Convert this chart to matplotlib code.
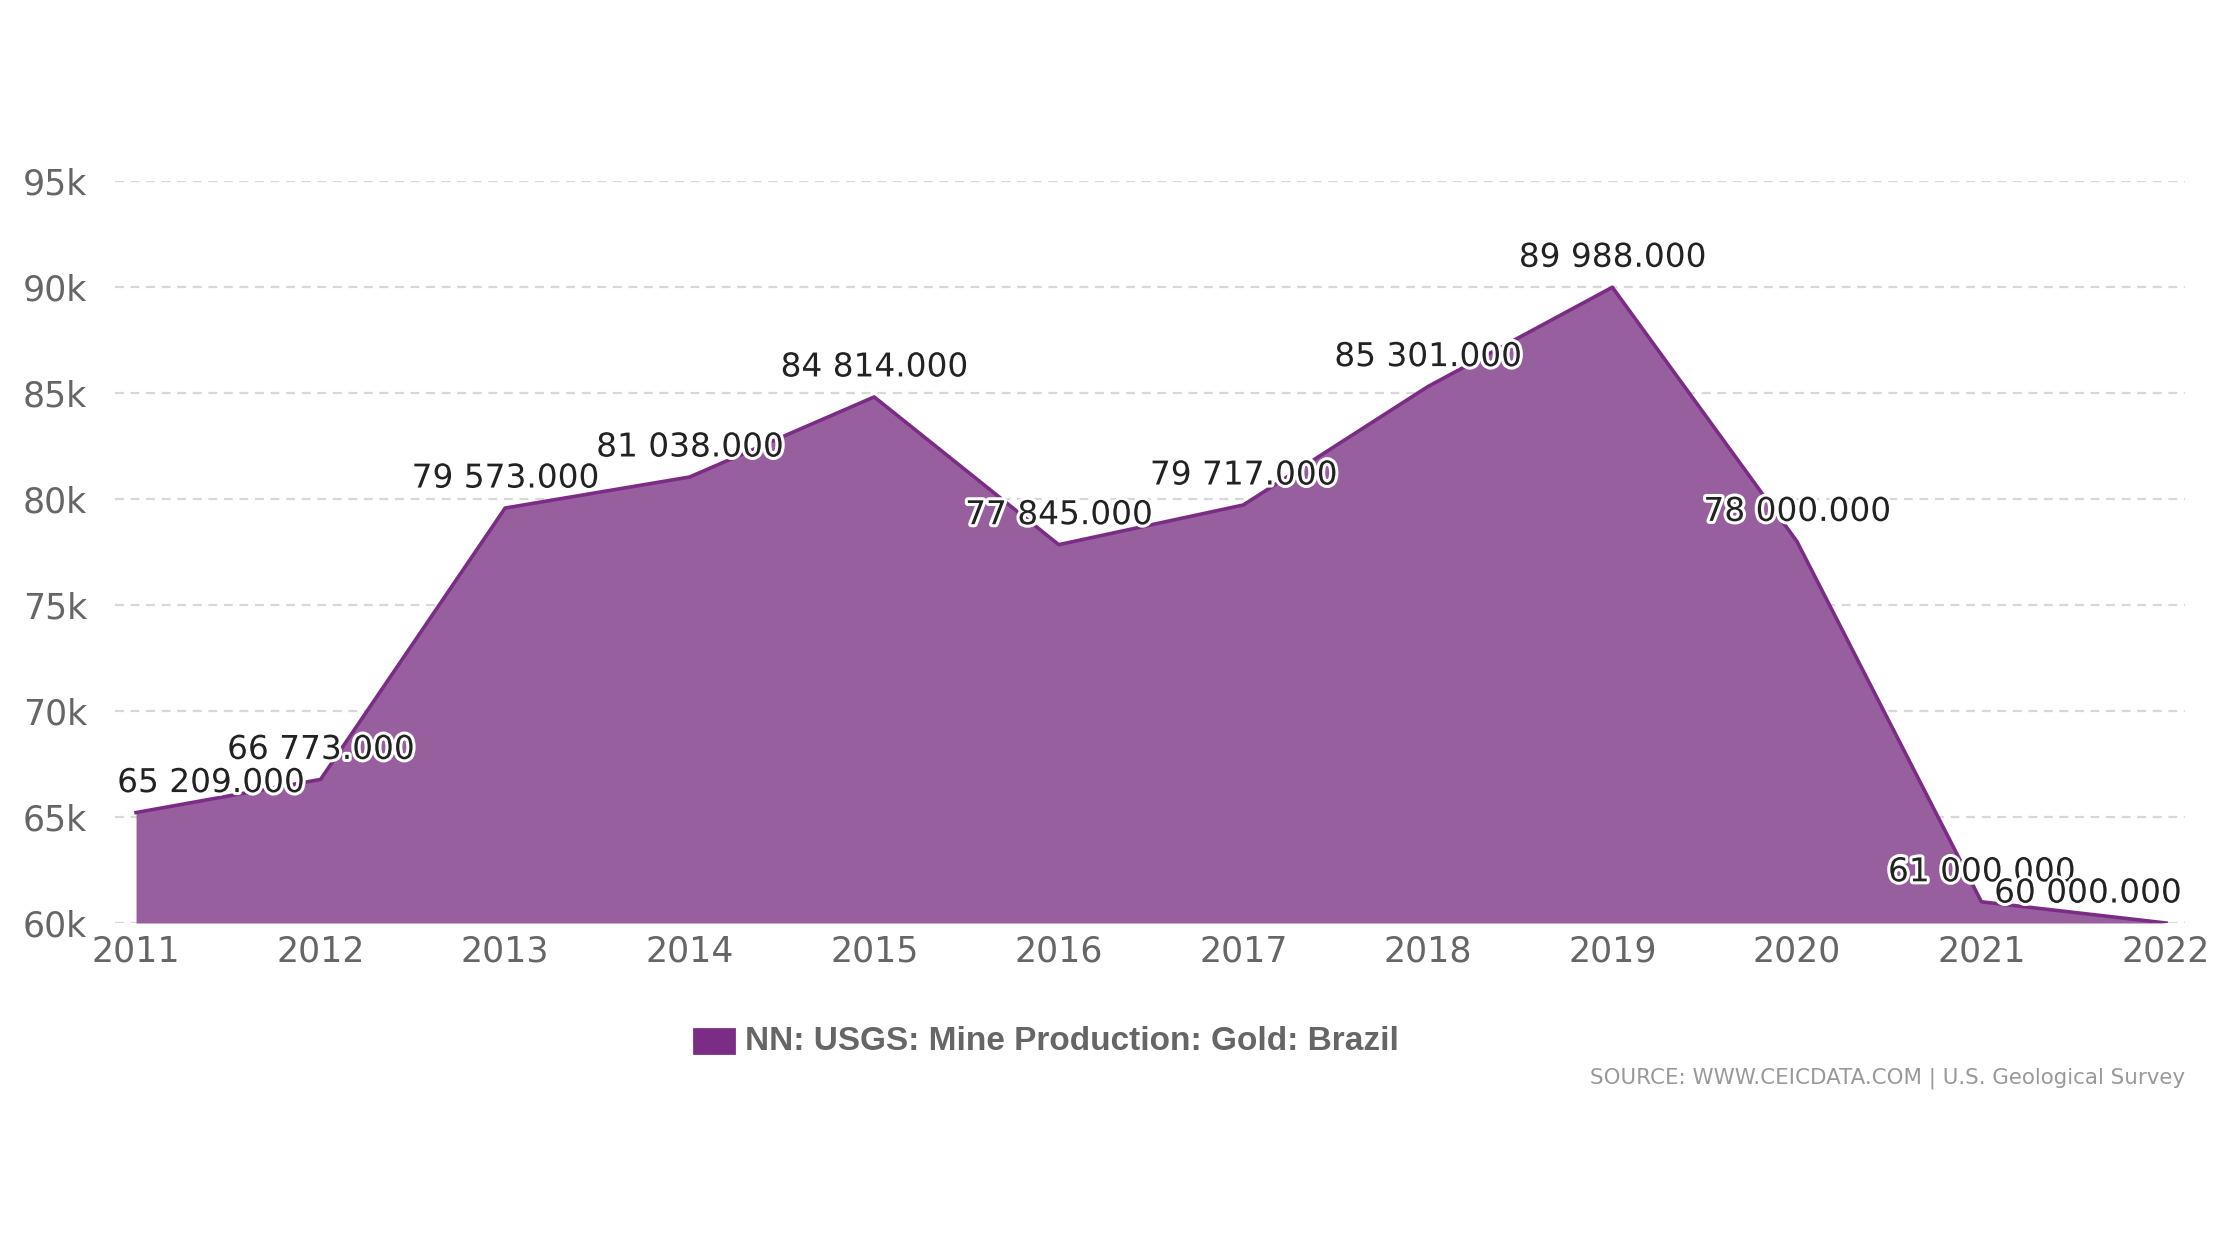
import matplotlib
matplotlib.use("Agg")
import matplotlib.pyplot as plt
import matplotlib.patheffects as pe
from matplotlib.patches import Rectangle

years = [2011, 2012, 2013, 2014, 2015, 2016, 2017, 2018, 2019, 2020, 2021, 2022]
values = [65209, 66773, 79573, 81038, 84814, 77845, 79717, 85301, 89988, 78000, 61000, 60000]
yticks = [60000, 65000, 70000, 75000, 80000, 85000, 90000, 95000]
ytick_labels = ["60k", "65k", "70k", "75k", "80k", "85k", "90k", "95k"]
legend_label = "NN: USGS: Mine Production: Gold: Brazil"
source_text = "SOURCE: WWW.CEICDATA.COM | U.S. Geological Survey"

W, H, DPI = 2240, 1260, 200
fig = plt.figure(figsize=(W / DPI, H / DPI), dpi=DPI)
fig.patch.set_facecolor("white")
ax = fig.add_axes([115 / W, 1 - 923 / H, (2185 - 115) / W, (923 - 181) / H])

line_col = "#7b2d86"
fill_col = "#985f9f"

ax.fill_between(years, values, 60000, color=fill_col, lw=0, zorder=2)
ax.plot(years, values, color=line_col, lw=1.3, zorder=3)

ax.set_xlim(2010.886, 2022.103)
ax.set_ylim(60000, 95000)
ax.set_yticks(yticks)
ax.set_yticklabels(ytick_labels)
ax.set_xticks(years)
ax.set_xticklabels([str(y) for y in years])
ax.tick_params(axis="both", length=0, colors="#666666", labelsize=12.5)
ax.tick_params(axis="y", pad=10)
ax.tick_params(axis="x", pad=4)
for lab in ax.get_xticklabels() + ax.get_yticklabels():
    lab.set_color("#666666")
for s in ax.spines.values():
    s.set_visible(False)
ax.grid(axis="y", color="#d8d8d8", linestyle=(0, (4, 3)), lw=0.8, zorder=1)
ax.grid(axis="x", visible=False)
ax.set_axisbelow(True)

off = 10.8
n = len(years)
for i, (x, v) in enumerate(zip(years, values)):
    txt = f"{v:,.3f}".replace(",", " ")
    if i == 0:
        xo, ha = -6.8, "left"
    elif i == n - 1:
        xo, ha = 5.4, "right"
    else:
        xo, ha = 0, "center"
    t = ax.annotate(txt, xy=(x, v), xytext=(xo, off), textcoords="offset points",
                    ha=ha, va="center", fontsize=11.8, color="#222222", zorder=5,
                    annotation_clip=False)
    t.set_path_effects([pe.withStroke(linewidth=2.2, foreground="white")])

# legend
fig.patches.append(Rectangle((694 / W, 1 - 1053 / H), 40 / W, 24 / H,
                             transform=fig.transFigure, color=line_col, figure=fig))
fig.text(745 / W, 1 - 1041 / H, legend_label, ha="left", va="center",
         fontsize=12, color="#666666", fontweight="bold",
         family="Liberation Sans")

fig.text(2185 / W, 1 - 1078 / H, source_text, ha="right", va="center",
         fontsize=7.7, color="#999999")

fig.savefig("out.png", dpi=DPI)
